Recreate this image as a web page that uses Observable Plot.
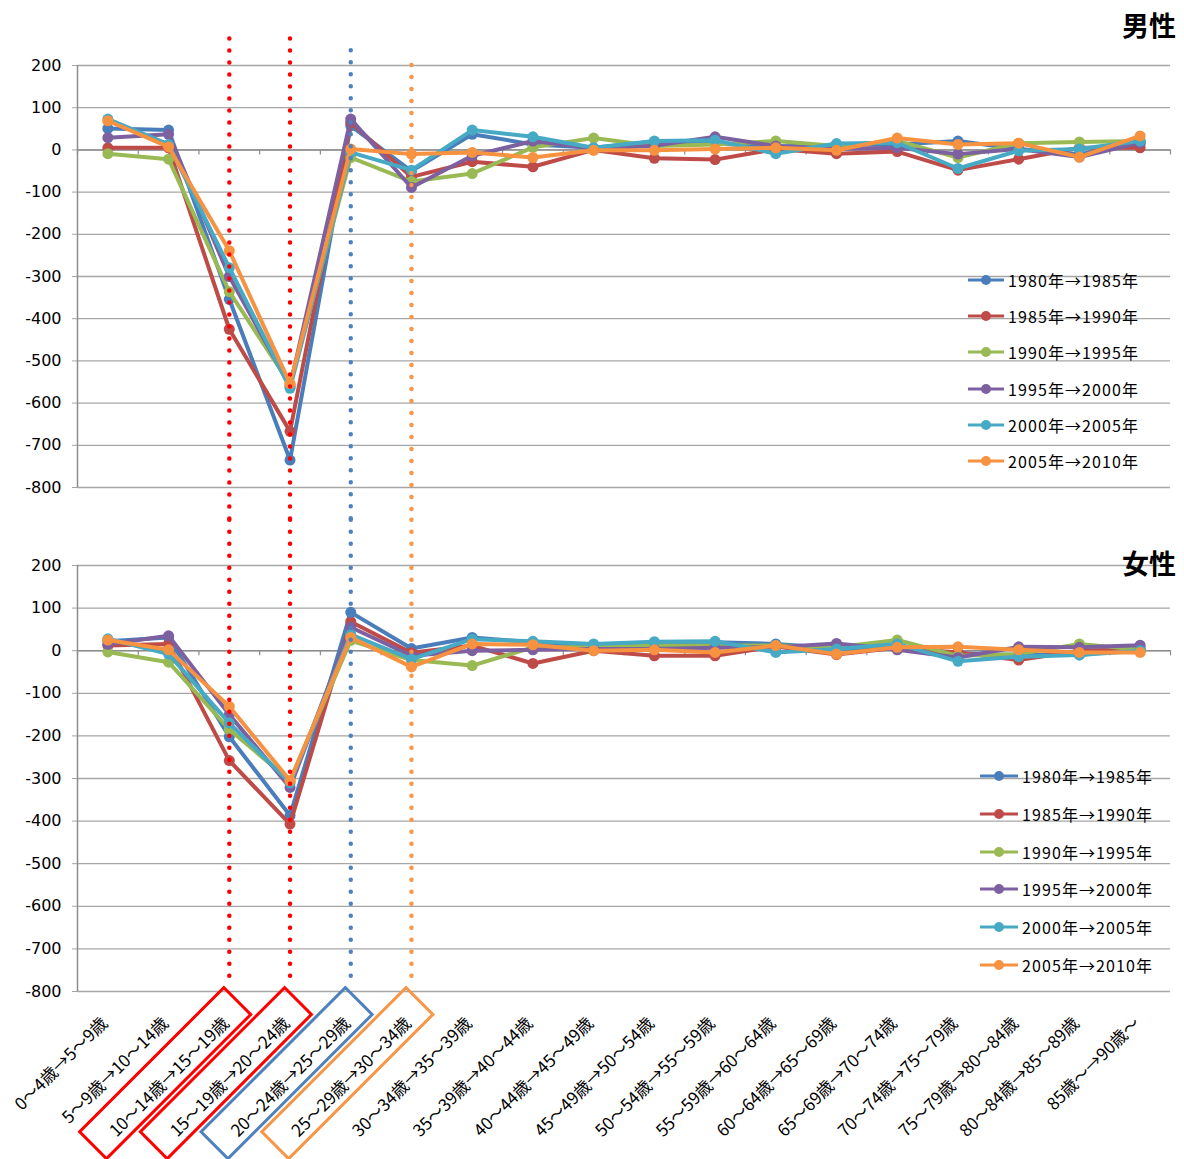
<!DOCTYPE html>
<html><head><meta charset="utf-8">
<script src="https://cdn.jsdelivr.net/npm/d3@7"></script>
<script src="https://cdn.jsdelivr.net/npm/@observablehq/plot@0.6"></script>
<style>
body{margin:0;background:#fff;}
#wrap{position:relative;width:1184px;height:1159px;overflow:hidden;font-family:"Noto Sans CJK JP","Noto Sans",sans-serif;color:#000;}
#wrap svg{display:block;overflow:visible;}
.title{position:absolute;right:8px;font-size:27px;font-weight:bold;line-height:1;}
.leg{position:absolute;font-size:16px;line-height:1;letter-spacing:1.1px;}
.leg div{position:absolute;display:flex;align-items:center;white-space:nowrap;}
</style></head><body><div id="wrap"></div>
<script>
const cats = ["0～4歳→5～9歳","5～9歳→10～14歳","10～14歳→15～19歳","15～19歳→20～24歳","20～24歳→25～29歳","25～29歳→30～34歳","30～34歳→35～39歳","35～39歳→40～44歳","40～44歳→45～49歳","45～49歳→50～54歳","50～54歳→55～59歳","55～59歳→60～64歳","60～64歳→65～69歳","65～69歳→70～74歳","70～74歳→75～79歳","75～79歳→80～84歳","80～84歳→85～89歳","85歳～→90歳～"];
const series = ["1980年→1985年","1985年→1990年","1990年→1995年","1995年→2000年","2000年→2005年","2005年→2010年"];
const yTicks = [200,100,0,-100,-200,-300,-400,-500,-600,-700,-800];

// 男性
const male1980 = [51, 47, -354, -735, 57, -50, 37, 13, 5, 20, 15, 8, 12, 13, 21, 2, -10, 15];
const male1985 = [5, 5, -425, -667, 65, -64, -28, -40, 0, -20, -23, 2, -9, -4, -48, -22, 5, 5];
const male1990 = [-9, -22, -336, -555, -18, -75, -56, 6, 28, 9, 13, 21, 9, 21, -18, 16, 19, 21];
const male1995 = [29, 37, -300, -560, 73, -89, -14, 21, 3, 10, 31, 9, 2, 5, -10, 2, -17, 17];
const male2000 = [73, 13, -279, -565, -6, -48, 47, 31, 5, 21, 23, -9, 15, 17, -44, -2, 2, 21];
const male2005 = [69, 7, -239, -554, 2, -10, -6, -18, -1, -1, 2, 5, -1, 28, 13, 16, -17, 33];
// 女性
const female1980 = [22, 31, -202, -387, 90, 5, 31, 20, 8, 18, 20, 16, 6, 4, -6, -10, -10, 4];
const female1985 = [12, 16, -258, -407, 68, -5, 12, -30, 0, -12, -12, 10, -9, 7, -4, -22, 0, 4];
const female1990 = [-3, -27, -185, -305, 24, -22, -35, 8, 8, 12, 12, 12, 8, 25, -12, -8, 16, 2];
const female1995 = [15, 35, -150, -321, 55, -12, 0, 2, 4, 4, 7, 8, 17, 2, -16, 9, 8, 13];
const female2000 = [28, -8, -170, -310, 38, -20, 27, 22, 16, 21, 22, -4, 4, 16, -25, -14, -10, 0];
const female2005 = [25, 2, -131, -305, 31, -38, 16, 14, 0, 2, -4, 12, -8, 8, 9, 2, -4, -4];

const colors = ["#4a7ebb","#be4b48","#98b954","#7d60a0","#46aac5","#f69240"];
const W = 1184, ML = 77, MR = 14;
const step = (W - ML - MR) / cats.length;
const wrap = document.getElementById("wrap");

function panel(values, o) {
  const marks = [
    Plot.gridY(yTicks, {stroke: "#a6a6a6", strokeOpacity: 1, strokeWidth: 1.3}),
    Plot.axisY(yTicks, {label: null, tickSize: 5, tickPadding: 11, fontSize: 16, stroke: "#a6a6a6", fill: "#000", tickFormat: d => String(d), fontFamily: "DejaVu Sans, sans-serif"}),
    Plot.ruleX([cats[0]], {x: d => d, y1: -800, y2: 200, dx: -step / 2, stroke: "#8c8c8c", strokeWidth: 1.5}),
    Plot.ruleY([0], {stroke: "#8c8c8c", strokeWidth: 1.5}),
    Plot.ruleX(cats, {x: d => d, y1: 0, y2: -12, dx: -step / 2, stroke: "#8c8c8c", strokeWidth: 1.2}),
    Plot.ruleX([cats[cats.length - 1]], {x: d => d, y1: 0, y2: -12, dx: step / 2, stroke: "#8c8c8c", strokeWidth: 1.2})
  ];
  series.forEach((s, si) => {
    const rows = values[si].map((v, ci) => ({cat: cats[ci], value: v, series: s}));
    marks.push(Plot.line(rows, {x: "cat", y: "value", stroke: colors[si], strokeWidth: 4}));
    marks.push(Plot.dot(rows, {x: "cat", y: "value", fill: colors[si], r: 5.5}));
  });
  const dotted = {strokeDasharray: "0 12", strokeLinecap: "round", strokeWidth: 4.5};
  marks.push(Plot.ruleX([cats[2], cats[3]], {x: d => d, y1: o.redTop, y2: o.ruleBottom, stroke: "#ff0000", ...dotted}));
  marks.push(Plot.ruleX([cats[4]], {x: d => d, y1: o.blueTop, y2: o.ruleBottom, stroke: "#4f81bd", ...dotted}));
  marks.push(Plot.ruleX([cats[5]], {x: d => d, y1: o.orangeTop, y2: o.ruleBottom, stroke: "#f79646", ...dotted}));
  if (o.labels) {
    marks.push(Plot.text(cats, {x: d => d, frameAnchor: "bottom", text: d => d, rotate: -45, textAnchor: "end", lineAnchor: "middle", dx: -3, dy: 29, fontSize: 17, fill: "#000", fontFamily: "Noto Sans CJK JP"}));
  }
  return Plot.plot({
    width: W, height: o.height,
    marginLeft: ML, marginRight: MR, marginTop: o.marginTop, marginBottom: o.marginBottom,
    x: {type: "point", domain: cats, padding: 0.5, round: false, axis: null},
    y: {domain: [-800, 200], axis: null, label: null},
    style: {background: "transparent", overflow: "visible"},
    marks
  });
}

const chartTop = panel([male1980, male1985, male1990, male1995, male2000, male2005],
  {height: 520, marginTop: 65, marginBottom: 33, redTop: 263, blueTop: 235, orangeTop: 200, ruleBottom: -880});
const chartBottom = panel([female1980, female1985, female1990, female1995, female2000, female2005],
  {height: 639, marginTop: 45, marginBottom: 168, redTop: 306, blueTop: 306, orangeTop: 306, ruleBottom: -788, labels: true});
wrap.appendChild(chartTop);
wrap.appendChild(chartBottom);

// highlight boxes around selected x labels, positioned with the x scale
const boxes = [[cats[2], "#ff0000"], [cats[3], "#ff0000"], [cats[4], "#4f81bd"], [cats[5], "#f79646"]];
const xs = chartBottom.scale("x");
const svgB = d3.select(chartBottom.tagName.toLowerCase() === "svg" ? chartBottom : chartBottom.querySelector("svg"));
const yb = 639 - 168;
boxes.forEach(([c, col]) => {
  const cx = xs.apply(c);
  svgB.append("g").attr("transform", `translate(${cx},${yb + 27}) rotate(-45)`)
    .append("rect").attr("x", -186).attr("y", -25).attr("width", 204).attr("height", 38)
    .attr("fill", "none").attr("stroke", col).attr("stroke-width", 3);
});

// titles
function title(t, y) { const d = document.createElement("div"); d.className = "title"; d.textContent = t; d.style.top = y + "px"; wrap.appendChild(d); }
title("男性", 11);
title("女性", 549);

// legends
function legend(left, tops, lineLen) {
  const box = document.createElement("div"); box.className = "leg"; box.style.left = left + "px"; box.style.top = "0px";
  series.forEach((s, i) => {
    const it = document.createElement("div");
    it.style.top = (tops[i] - 10) + "px"; it.style.left = "0px";
    it.innerHTML = `<svg width="${lineLen + 4}" height="20" style="overflow:visible"><line x1="0" x2="${lineLen}" y1="10" y2="10" stroke="${colors[i]}" stroke-width="3"/><circle cx="${lineLen / 2}" cy="10" r="5" fill="${colors[i]}"/></svg><span>${s}</span>`;
    box.appendChild(it);
  });
  wrap.appendChild(box);
}
legend(968, [280, 316, 352, 389, 425, 461], 36);
legend(980, [776, 814, 852, 889, 927, 965], 38);
</script></body></html>
